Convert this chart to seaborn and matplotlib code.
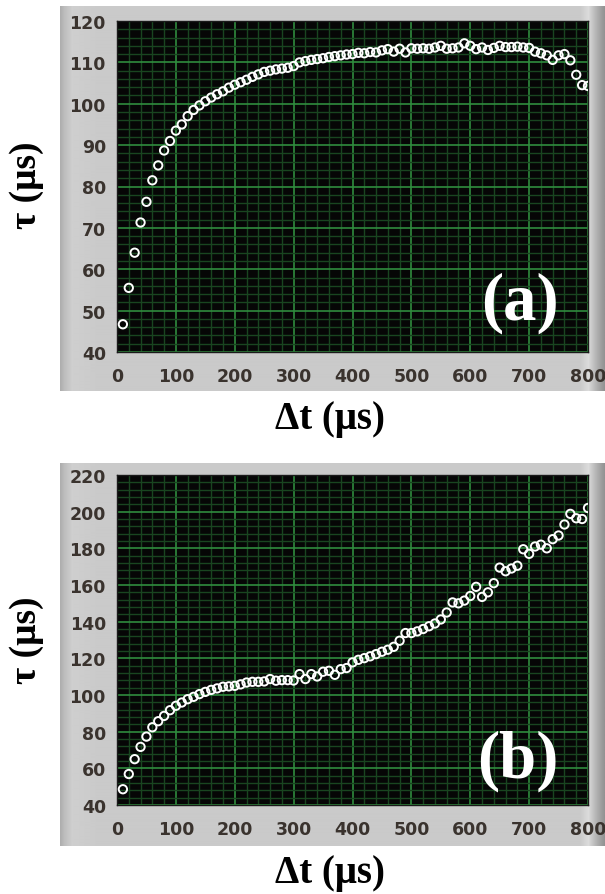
import numpy as np
import pandas as pd
import matplotlib
matplotlib.use("Agg")
import matplotlib.pyplot as plt
from matplotlib.ticker import AutoMinorLocator
import seaborn as sns

# ---------------- data ----------------
dt_a = [10, 20, 30, 40, 50, 60, 70, 80, 90, 100, 110, 120, 130, 140, 150, 160, 170, 180, 190, 200,
        210, 220, 230, 240, 250, 260, 270, 280, 290, 300, 310, 320, 330, 340, 350, 360, 370, 380, 390, 400,
        410, 420, 430, 440, 450, 460, 470, 480, 490, 500, 510, 520, 530, 540, 550, 560, 570, 580, 590, 600,
        610, 620, 630, 640, 650, 660, 670, 680, 690, 700, 710, 720, 730, 740, 750, 760, 770, 780, 790, 800]
tau_a = [46.7, 55.5, 64.0, 71.3, 76.3, 81.5, 85.1, 88.7, 91.0, 93.5,
         95.0, 97.0, 98.5, 99.6, 100.6, 101.5, 102.3, 103.0, 103.9, 104.6,
         105.2, 105.8, 106.5, 107.1, 107.7, 108.0, 108.3, 108.5, 108.7, 109.1,
         110.0, 110.3, 110.6, 110.8, 111.0, 111.3, 111.5, 111.7, 111.9, 112.0,
         112.3, 112.2, 112.5, 112.4, 112.9, 113.2, 112.6, 113.3, 112.4, 113.4,
         113.3, 113.4, 113.3, 113.6, 114.0, 113.3, 113.4, 113.6, 114.6, 114.0,
         113.2, 113.6, 113.0, 113.5, 114.0, 113.7, 113.7, 113.8, 113.6, 113.5,
         112.6, 112.2, 111.7, 110.6, 111.7, 112.0, 110.5, 107.0, 104.5, 104.3]

dt_b = [10, 20, 30, 40, 50, 60, 70, 80, 90, 100, 110, 120, 130, 140, 150, 160, 170, 180, 190, 200,
        210, 220, 230, 240, 250, 260, 270, 280, 290, 300, 310, 320, 330, 340, 350, 360, 370, 380, 390, 400,
        410, 420, 430, 440, 450, 460, 470, 480, 490, 500, 510, 520, 530, 540, 550, 560, 570, 580, 590, 600,
        610, 620, 630, 640, 650, 660, 670, 680, 690, 700, 710, 720, 730, 740, 750, 760, 770, 780, 790, 800]
tau_b = [48.6, 56.9, 65.0, 71.7, 77.3, 82.4, 85.7, 88.6, 91.7, 94.1,
         95.9, 97.7, 99.0, 100.5, 101.7, 102.8, 103.6, 104.5, 104.7, 105.0,
         105.8, 106.8, 107.2, 107.2, 107.4, 108.7, 107.8, 108.1, 108.1, 107.9,
         111.4, 108.7, 111.4, 110.1, 112.7, 113.2, 111.0, 114.1, 114.7, 117.8,
         119.2, 120.1, 121.1, 122.3, 123.6, 124.7, 126.3, 129.6, 133.8, 133.8,
         134.7, 136.0, 137.5, 139.0, 141.2, 145.0, 150.5, 150.0, 151.5, 154.0,
         159.0, 153.5, 156.0, 161.0, 169.5, 167.5, 169.0, 170.5, 179.5, 177.0,
         181.0, 182.0, 180.0, 185.0, 187.0, 193.0, 198.8, 196.4, 196.0, 202.0]

x_ticks = [0, 100, 200, 300, 400, 500, 600, 700, 800]
y_ticks_a = [40, 50, 60, 70, 80, 90, 100, 110, 120]
y_ticks_b = [40, 60, 80, 100, 120, 140, 160, 180, 200, 220]
panel_tags = ["(a)", "(b)"]
x_label = "Δt (μs)"
y_label = "τ (μs)"

# ---------------- style ----------------
sns.set_style("white")
plt.rcParams["font.family"] = ["DejaVu Sans"]
serif = ["Liberation Serif", "DejaVu Serif"]

W, H = 605, 895
fig = plt.figure(figsize=(W / 100, H / 100), dpi=100)
fig.patch.set_facecolor("white")


def frac_rect(x0, y0, x1, y1):
    return [x0 / W, 1 - y1 / H, (x1 - x0) / W, (y1 - y0) / H]


# gray LabVIEW-like panel gradient
grad_pos = [0, 4, 12, 40, 520, 528, 535, 541, 545]
grad_val = [0.68, 0.74, 0.81, 0.79, 0.79, 0.86, 0.72, 0.62, 0.56]
prof = np.interp(np.arange(545), grad_pos, grad_val)
grad_img = np.tile(prof, (4, 1))


def panel(y0, y1):
    bg = fig.add_axes(frac_rect(60, y0, 605, y1), zorder=-5)
    bg.imshow(grad_img, cmap="gray", vmin=0, vmax=1, aspect="auto",
              extent=[0, 1, 0, 1], interpolation="bilinear")
    bg.set_axis_off()


panel(7, 392)
panel(464, 847)

tick_color = "#3a332e"


def make_axes(rect, x, y, yticks, tag, tag_pos):
    ax = fig.add_axes(rect)
    ax.set_facecolor("#060606")
    df = pd.DataFrame({"dt": x, "tau": y})
    sns.scatterplot(data=df, x="dt", y="tau", ax=ax, marker="o", s=36,
                    facecolor="none", edgecolor="white", linewidth=1.4, zorder=5)
    ax.set_xlim(0, 800)
    ax.set_ylim(yticks[0], yticks[-1])
    ax.set_xticks(x_ticks)
    ax.set_yticks(yticks)
    ax.xaxis.set_minor_locator(AutoMinorLocator(5))
    ax.yaxis.set_minor_locator(AutoMinorLocator(5))
    ax.grid(which="major", color="#2f8c3e", linewidth=1.2)
    ax.grid(which="minor", color="#194520", linewidth=1.0)
    ax.set_axisbelow(True)
    ax.tick_params(which="minor", length=0)
    ax.tick_params(axis="x", which="major", direction="out", length=6, width=1.2,
                   color=tick_color, pad=5, labelsize=12.5, labelcolor=tick_color)
    ax.tick_params(axis="y", which="major", direction="out", length=5, width=1.2,
                   color=tick_color, pad=3, labelsize=12.5, labelcolor=tick_color)
    for lab in ax.get_xticklabels() + ax.get_yticklabels():
        lab.set_fontweight("bold")
    for s in ax.spines.values():
        s.set_color("#1a1a1a")
        s.set_linewidth(1.0)
    ax.set_xlabel("")
    ax.set_ylabel("")
    ax.text(tag_pos[0], tag_pos[1], tag, transform=ax.transAxes, color="white",
            fontsize=48, fontweight="bold", family=serif, ha="center", va="center",
            zorder=6)
    return ax


ax_a = make_axes(frac_rect(117, 22, 588, 353), dt_a, tau_a, y_ticks_a,
                 panel_tags[0], (0.855, 0.15))
ax_b = make_axes(frac_rect(117, 476, 588, 806), dt_b, tau_b, y_ticks_b,
                 panel_tags[1], (0.85, 0.135))

# axis titles
fig.text(26 / W, 1 - 185 / H, y_label, rotation=90, ha="center", va="center",
         fontsize=27, fontweight="bold", family=serif, color="black")
fig.text(26 / W, 1 - 640 / H, y_label, rotation=90, ha="center", va="center",
         fontsize=27, fontweight="bold", family=serif, color="black")
fig.text(330 / W, 1 - 420 / H, x_label, ha="center", va="center",
         fontsize=28, fontweight="bold", family=serif, color="black")
fig.text(330 / W, 1 - 874 / H, x_label, ha="center", va="center",
         fontsize=28, fontweight="bold", family=serif, color="black")

fig.savefig("out.png", dpi=100, facecolor="white")
